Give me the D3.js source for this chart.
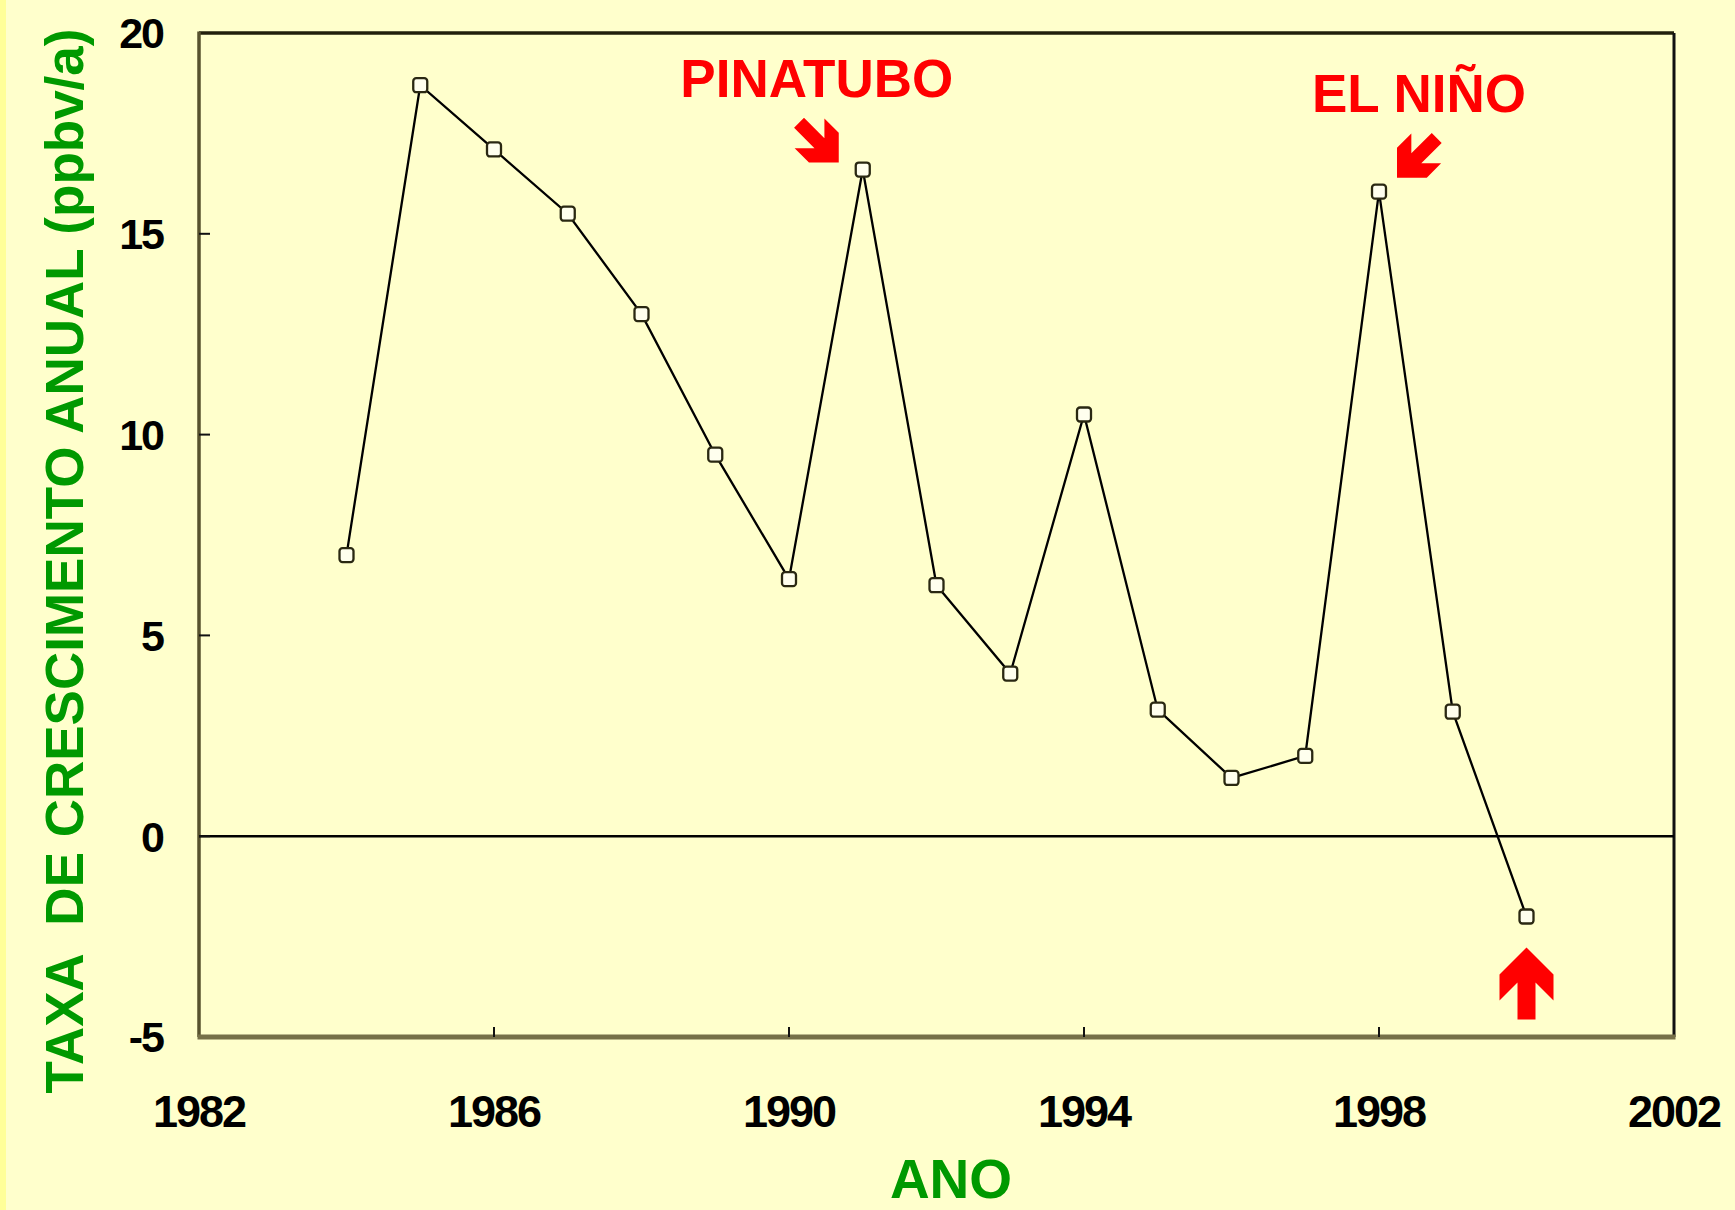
<!DOCTYPE html>
<html>
<head>
<meta charset="utf-8">
<script src="https://cdnjs.cloudflare.com/ajax/libs/d3/7.8.5/d3.min.js"></script>
<style>
  html, body { margin: 0; padding: 0; background: #ffffcc; }
  svg { display: block; }
  text { font-family: "Liberation Sans", Arial, sans-serif; font-weight: bold; }
</style>
</head>
<body>
<svg></svg>
<script>
const years = [1984, 1985, 1986, 1987, 1988, 1989, 1990, 1991, 1992, 1993, 1994, 1995, 1996, 1997, 1998, 1999, 2000];
const rates = [7.0, 18.7, 17.1, 15.5, 13.0, 9.5, 6.4, 16.6, 6.25, 4.05, 10.5, 3.15, 1.45, 2.0, 16.05, 3.1, -2.0];
const xTicks = [1982, 1986, 1990, 1994, 1998, 2002];
const yTicks = [-5, 0, 5, 10, 15, 20];
const notes = [
  { label: "PINATUBO", year: 1991 },
  { label: "EL NIÑO", year: 1998 },
  { label: "", year: 2000 }
];

const width = 1735, height = 1210;
const svg = d3.select("svg").attr("width", width).attr("height", height);

svg.append("rect").attr("width", width).attr("height", height).attr("fill", "#ffffcc");
svg.append("rect").attr("width", 6).attr("height", height).attr("fill", "#ffff99");

const x = d3.scaleLinear().domain([1982, 2002]).range([199, 1674]);
const y = d3.scaleLinear().domain([-5, 20]).range([1037, 33]);

const data = years.map((yr, i) => ({ year: yr, rate: rates[i] }));

// frame
svg.append("line").attr("x1", x(1982)).attr("x2", x(2002)).attr("y1", y(20)).attr("y2", y(20))
  .attr("stroke", "#22200c").attr("stroke-width", 3.5);
svg.append("line").attr("x1", x(2002)).attr("x2", x(2002)).attr("y1", y(20)).attr("y2", y(-5))
  .attr("stroke", "#111").attr("stroke-width", 3);
svg.append("line").attr("x1", x(1982)).attr("x2", x(1982)).attr("y1", y(20) - 1.5).attr("y2", y(-5))
  .attr("stroke", "#57522e").attr("stroke-width", 3.5);
svg.append("line").attr("x1", x(1982) - 1.5).attr("x2", x(2002) + 1.5).attr("y1", y(-5)).attr("y2", y(-5))
  .attr("stroke", "#767048").attr("stroke-width", 5);

// zero line
svg.append("line").attr("x1", x(1982)).attr("x2", x(2002)).attr("y1", y(0)).attr("y2", y(0))
  .attr("stroke", "#000").attr("stroke-width", 2.5);

// ticks
svg.selectAll("line.ytick").data(yTicks.slice(1, -1)).enter().append("line")
  .attr("class", "ytick")
  .attr("x1", x(1982)).attr("x2", x(1982) + 11)
  .attr("y1", d => y(d)).attr("y2", d => y(d))
  .attr("stroke", "#111").attr("stroke-width", 2);
svg.selectAll("line.xtick").data(xTicks.slice(1, -1)).enter().append("line")
  .attr("class", "xtick")
  .attr("x1", d => x(d)).attr("x2", d => x(d))
  .attr("y1", y(-5)).attr("y2", y(-5) - 10)
  .attr("stroke", "#111").attr("stroke-width", 2);

// tick labels
svg.selectAll("text.ylab").data(yTicks).enter().append("text")
  .attr("class", "ylab")
  .attr("x", 163).attr("y", d => y(d)).attr("dy", "0.36em")
  .attr("text-anchor", "end")
  .attr("font-size", 43).attr("letter-spacing", -2)
  .attr("fill", "#000")
  .text(d => d);
svg.selectAll("text.xlab").data(xTicks).enter().append("text")
  .attr("class", "xlab")
  .attr("x", d => x(d)).attr("y", 1127)
  .attr("text-anchor", "middle")
  .attr("font-size", 45).attr("letter-spacing", -2)
  .attr("fill", "#000")
  .text(d => d);

// axis titles
svg.append("text")
  .attr("transform", "translate(83,561) rotate(-90)")
  .attr("text-anchor", "middle")
  .attr("font-size", 53)
  .attr("fill", "#009900")
  .style("white-space", "pre")
  .text("TAXA  DE CRESCIMENTO ANUAL (ppbv/a)");
svg.append("text")
  .attr("x", 951).attr("y", 1198)
  .attr("text-anchor", "middle")
  .attr("font-size", 55)
  .attr("fill", "#009900")
  .text("ANO");

// series
const line = d3.line().x(d => x(d.year)).y(d => y(d.rate));
svg.append("path").datum(data).attr("d", line)
  .attr("fill", "none").attr("stroke", "#000").attr("stroke-width", 2.3);

svg.selectAll("rect.pt").data(data).enter().append("rect")
  .attr("class", "pt")
  .attr("x", d => x(d.year) - 7).attr("y", d => y(d.rate) - 7)
  .attr("width", 14).attr("height", 14).attr("rx", 3)
  .attr("fill", "#ffffee").attr("stroke", "#2a2812").attr("stroke-width", 2.3);

// annotations
const arrowShape = [[0, 0], [27, 27], [27, 53], [9, 35], [9, 72], [-9, 72], [-9, 35], [-27, 53], [-27, 27]];
const arrowPath = d3.line()(arrowShape) + "Z";
const byYear = y0 => data.find(d => d.year === y0);

const pin = byYear(notes[0].year);
svg.append("text")
  .attr("x", x(pin.year) - 46).attr("y", 97)
  .attr("text-anchor", "middle").attr("font-size", 53).attr("fill", "#ff0000")
  .text(notes[0].label);
svg.append("path").attr("d", arrowPath).attr("fill", "#ff0000")
  .attr("transform", `translate(${x(pin.year) - 24},${y(pin.rate) - 7}) rotate(135) scale(0.78)`);

const nino = byYear(notes[1].year);
svg.append("text")
  .attr("x", x(nino.year) + 40).attr("y", 112)
  .attr("text-anchor", "middle").attr("font-size", 53).attr("fill", "#ff0000")
  .text(notes[1].label);
svg.append("path").attr("d", arrowPath).attr("fill", "#ff0000")
  .attr("transform", `translate(${x(nino.year) + 18},${y(nino.rate) - 14}) rotate(-135) scale(0.78)`);

const last = byYear(notes[2].year);
svg.append("path").attr("d", arrowPath).attr("fill", "#ff0000")
  .attr("transform", `translate(${x(last.year)},${y(last.rate) + 31})`);
</script>
</body>
</html>
